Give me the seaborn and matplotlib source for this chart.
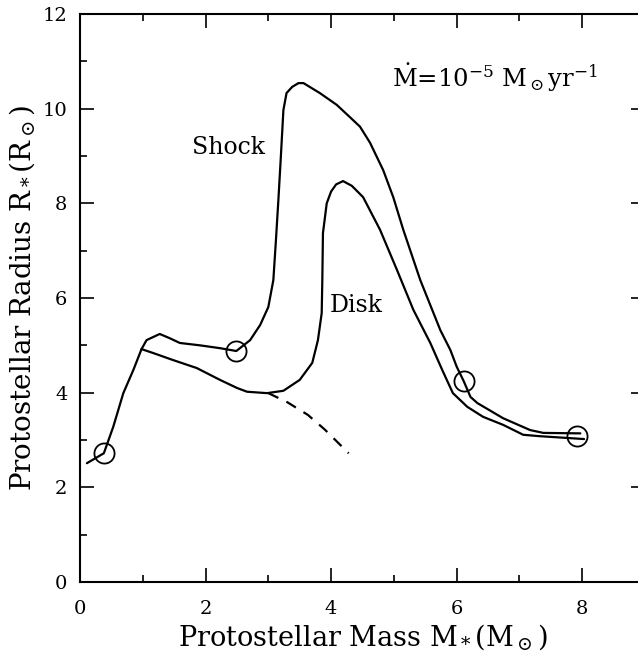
import matplotlib
matplotlib.use("Agg")
import matplotlib.pyplot as plt
import seaborn as sns
import pandas as pd
from matplotlib.ticker import MultipleLocator

# Shock curve (upper)
shock_mass = [0.11, 0.38, 0.53, 0.69, 0.85, 0.98, 1.06, 1.27, 1.43, 1.59, 1.91, 2.23,
              2.49, 2.71, 2.87, 3.00, 3.08, 3.12, 3.16, 3.20, 3.24, 3.29, 3.38, 3.48,
              3.56, 3.82, 4.09, 4.30, 4.46, 4.62, 4.83, 4.99, 5.15, 5.42, 5.74, 5.90,
              6.00, 6.11, 6.22, 6.33, 6.74, 7.17, 7.38, 7.97]
shock_radius = [2.51, 2.72, 3.28, 3.99, 4.48, 4.92, 5.11, 5.24, 5.15, 5.05, 5.00, 4.94,
                4.88, 5.11, 5.43, 5.81, 6.38, 7.20, 8.07, 9.00, 9.97, 10.33, 10.46, 10.54,
                10.54, 10.33, 10.08, 9.82, 9.62, 9.28, 8.70, 8.13, 7.44, 6.38, 5.32, 4.90,
                4.55, 4.25, 3.91, 3.78, 3.46, 3.21, 3.15, 3.14]
# Disk curve (lower)
disk_mass = [0.98, 1.16, 1.48, 1.86, 2.23, 2.50, 2.66, 2.87, 2.98, 3.24, 3.50, 3.70,
             3.79, 3.85, 3.86, 3.87, 3.93, 4.00, 4.08, 4.19, 4.33, 4.51, 4.78, 5.05,
             5.31, 5.58, 5.78, 5.94, 6.17, 6.42, 6.74, 7.06, 7.33, 8.03]
disk_radius = [4.92, 4.84, 4.69, 4.52, 4.27, 4.10, 4.02, 4.00, 3.99, 4.04, 4.27, 4.63,
               5.11, 5.68, 6.38, 7.37, 8.00, 8.25, 8.40, 8.47, 8.37, 8.13, 7.44, 6.59,
               5.75, 5.05, 4.45, 3.99, 3.70, 3.49, 3.32, 3.11, 3.08, 3.02]
# Dashed extension
dash_mass = [3.00, 3.30, 3.63, 3.90, 4.28]
dash_radius = [3.99, 3.80, 3.53, 3.22, 2.72]
# Circle markers
circle_mass = [0.38, 2.49, 6.11, 7.92]
circle_radius = [2.72, 4.88, 4.25, 3.08]

x_ticks = [0, 2, 4, 6, 8]
y_ticks = [0, 2, 4, 6, 8, 10, 12]

sns.set_theme(style="ticks")
plt.rcParams["font.family"] = ["DejaVu Serif"]
plt.rcParams["mathtext.fontset"] = "dejavuserif"
for k in ["text.color", "axes.labelcolor", "xtick.color", "ytick.color", "axes.edgecolor"]:
    plt.rcParams[k] = "black"

fig = plt.figure(figsize=(6.38, 6.53), dpi=100)
ax = fig.add_axes([80 / 638, 71 / 653, 565 / 638, 568 / 653])

shock = pd.DataFrame({"m": shock_mass, "r": shock_radius})
disk = pd.DataFrame({"m": disk_mass, "r": disk_radius})
dash = pd.DataFrame({"m": dash_mass, "r": dash_radius})

sns.lineplot(data=shock, x="m", y="r", sort=False, estimator=None, color="black", lw=1.6, ax=ax)
sns.lineplot(data=disk, x="m", y="r", sort=False, estimator=None, color="black", lw=1.6, ax=ax)
sns.lineplot(data=dash, x="m", y="r", sort=False, estimator=None, color="black", lw=1.6,
             linestyle=(0, (5, 4)), ax=ax)
ax.plot(circle_mass, circle_radius, "o", ms=14.5, mfc="none", mec="black", mew=1.3)

ax.set_xlim(0, 9)
ax.set_ylim(0, 12)
ax.set_xticks(x_ticks)
ax.set_yticks(y_ticks)
ax.xaxis.set_minor_locator(MultipleLocator(1))
ax.yaxis.set_minor_locator(MultipleLocator(1))
ax.tick_params(which="both", direction="in", top=True, right=True, colors="black",
               labelsize=14, width=1.2)
ax.tick_params(which="major", length=10)
ax.tick_params(axis="x", which="major", pad=13)
ax.tick_params(axis="y", which="major", pad=9)
ax.tick_params(which="minor", length=5)
for s in ax.spines.values():
    s.set_linewidth(1.5)
    s.set_color("black")

ax.set_xlabel(r"Protostellar Mass M$_*$(M$_\odot$)", fontsize=19.5, labelpad=3)
ax.set_ylabel(r"Protostellar Radius R$_*$(R$_\odot$)", fontsize=20, labelpad=4)

ax.text(1.78, 9.17, "Shock", fontsize=17, va="center", ha="left")
ax.text(3.98, 5.85, "Disk", fontsize=17, va="center", ha="left")
ax.text(4.97, 10.65, r"$\dot{\rm M}$=10$^{-5}$ M$_\odot$yr$^{-1}$", fontsize=17.5,
        va="center", ha="left")

fig.savefig("out.png", dpi=100)
